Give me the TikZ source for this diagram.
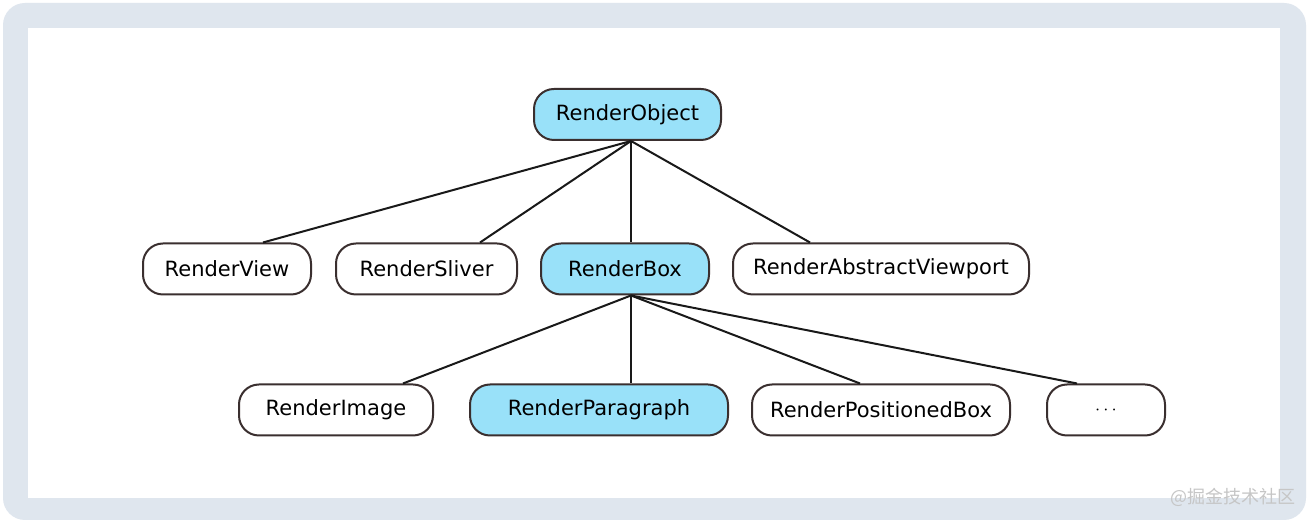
\documentclass[tikz,border=0pt]{standalone}
\usepackage{fontspec}
\setmainfont{DejaVu Sans}
\newfontfamily\cjkfont{Noto Sans CJK SC}
\definecolor{framegray}{HTML}{DFE6EE}
\definecolor{boxline}{HTML}{3A2F2F}
\definecolor{hilite}{HTML}{99E1F9}

\begin{document}
\begin{tikzpicture}[x=0.5pt,y=-0.5pt,
  cls/.style={draw=boxline,line width=1pt,rounded corners=10pt,inner sep=0pt,
    minimum height=25.5pt,font=\fontsize{10.5}{12}\selectfont},
  core/.style={cls,fill=hilite},
  edge/.style={line width=1pt,black!90}]
\fill[white] (0,0) rectangle (1312,522);
\fill[framegray,rounded corners=11pt] (3,3) rectangle (1306,520);
\fill[white] (28,28) rectangle (1280,498);
\node[font=\cjkfont\fontsize{9}{10}\selectfont,text=gray!45] (mark) at (1233,497) {@掘金技术社区};
% top
\node[core,minimum width=93.5pt] (obj) at (627.5,114.5) {RenderObject};
% second row
\node[cls,minimum width=84pt] (view) at (227,269) {RenderView};
\node[cls,minimum width=90.5pt] (sliver) at (426.5,269) {RenderSliver};
\node[core,minimum width=84pt] (box) at (625,269) {RenderBox};
\node[cls,minimum width=148pt] (viewport) at (881,269) {RenderAbstractViewport};
% third row
\node[cls,minimum width=97pt] (image) at (336,410) {RenderImage};
\node[core,minimum width=129pt] (para) at (599,410) {RenderParagraph};
\node[cls,minimum width=129pt] (posbox) at (881,410) {RenderPositionedBox};
\node[cls,minimum width=59pt] (more) at (1106,410) {\fontsize{9}{10}\selectfont$\cdots$};
\coordinate (objout) at ([xshift=1.75pt]obj.south);
\coordinate (boxout) at ([xshift=3pt]box.south);
\draw[edge] (objout) -- ([xshift=18pt]view.north);
\draw[edge] (objout) -- ([xshift=26.75pt]sliver.north);
\draw[edge] (objout) -- ([xshift=3pt]box.north);
\draw[edge] (objout) -- ([xshift=-35.5pt]viewport.north);
\draw[edge] (boxout) -- ([xshift=33.5pt]image.north);
\draw[edge] (boxout) -- ([xshift=16pt]para.north);
\draw[edge] (boxout) -- ([xshift=-10.5pt]posbox.north);
\draw[edge] (boxout) -- ([xshift=-14.5pt]more.north);
\end{tikzpicture}
\end{document}
